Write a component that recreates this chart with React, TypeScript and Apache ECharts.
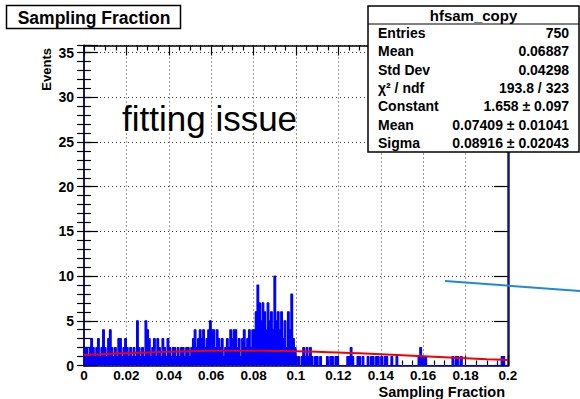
import React, { useEffect, useRef } from "react";
import * as echarts from "echarts";

// ---------- data ----------
const X_MIN = 0;
const X_MAX = 0.2;
const BIN_WIDTH = 0.0008;
const Y_MAX = 35.8;

// bin contents, 25 bins per 0.02 interval
const bins_000_002 = [2, 2, 1, 2, 3, 2, 1, 2, 3, 1, 2, 4, 2, 1, 3, 4, 2, 1, 2, 1, 3, 3, 1, 2, 3];
const bins_002_004 = [2, 1, 2, 1, 2, 1, 5, 2, 1, 2, 1, 5, 4, 3, 1, 2, 3, 1, 3, 2, 1, 3, 2, 1, 3];
const bins_004_006 = [2, 1, 2, 2, 1, 2, 1, 2, 2, 1, 2, 2, 1, 2, 3, 4, 2, 3, 4, 3, 4, 2, 3, 4, 5];
const bins_006_008 = [4, 4, 2, 4, 3, 2, 3, 1, 2, 3, 2, 4, 3, 4, 4, 2, 3, 1, 3, 4, 2, 3, 4, 2, 4];
const bins_008_010 = [4, 6, 9, 7, 5, 7, 6, 4, 7, 5, 6, 4, 10, 5, 6, 4, 6, 3, 5, 2, 6, 4, 8, 3, 2];
const bins_010_012 = [0, 1, 0, 1, 2, 1, 2, 1, 2, 1, 0, 1, 1, 0, 1, 0, 0, 0, 1, 0, 1, 1, 0, 1, 1];
const bins_012_014 = [0, 0, 0, 0, 0, 1, 1, 2, 1, 0, 0, 1, 1, 0, 1, 0, 0, 1, 0, 1, 1, 0, 1, 1, 0];
const bins_014_016 = [1, 0, 1, 1, 0, 0, 1, 0, 0, 1, 0, 0, 0, 0, 0, 0, 0, 0, 0, 0, 0, 0, 1, 2, 1];
const bins_016_018 = [1, 1, 0, 0, 0, 0, 0, 0, 0, 0, 0, 0, 0, 0, 0, 0, 0, 1, 0, 1, 1, 0, 1, 0, 0];
const bins_018_020 = [0, 0, 0, 0, 0, 0, 0, 0, 0, 0, 0, 0, 0, 0, 0, 0, 0, 0, 0, 0, 0, 1, 1, 0, 0];

// fit curve
const fitX = [0, 0.01, 0.02, 0.03, 0.04, 0.05, 0.06, 0.07, 0.08, 0.09, 0.1, 0.11, 0.12, 0.13, 0.14, 0.15, 0.16, 0.17, 0.18, 0.19, 0.2];
const fitY = [1.174, 1.28, 1.379, 1.467, 1.541, 1.598, 1.637, 1.656, 1.654, 1.632, 1.59, 1.529, 1.452, 1.362, 1.262, 1.154, 1.042, 0.93, 0.819, 0.712, 0.612];

const statsTitle = "hfsam_copy";
const statsLabels = ["Entries", "Mean", "Std Dev", "χ² / ndf", "Constant", "Mean", "Sigma"];
const statsValues = ["750", "0.06887", "0.04298", "193.8 / 323", "1.658 ± 0.097", "0.07409 ± 0.01041", "0.08916 ± 0.02043"];

const titleText = "Sampling Fraction";
const xTitle = "Sampling Fraction";
const yTitle = "Events";
const noteText = "fitting issue";

// ---------- component ----------
const FONT = "'Liberation Sans', Arial, Helvetica, sans-serif";
const NAVY = "#14147a";

export default function App() {
  const ref = useRef<HTMLDivElement>(null);

  useEffect(() => {
    if (!ref.current) return;
    const chart = echarts.init(ref.current, undefined, { renderer: "svg" });

    const allBins = [
      ...bins_000_002, ...bins_002_004, ...bins_004_006, ...bins_006_008, ...bins_008_010,
      ...bins_010_012, ...bins_012_014, ...bins_014_016, ...bins_016_018, ...bins_018_020,
    ];
    const histData: number[][] = [[X_MIN, 0]];
    allBins.forEach((v, i) => histData.push([X_MIN + i * BIN_WIDTH, v]));
    histData.push([X_MAX, allBins[allBins.length - 1]]);
    histData.push([X_MAX, 0]);

    const fitData = fitX.map((x, i) => [x, fitY[i]]);

    const gridL = 84, gridR = 508, gridT = 45.5, gridB = 365.5;

    const xLab = (v: number) => {
      const r = Math.round(v * 100) / 100;
      return r === 0 ? "0" : String(r);
    };
    const yLab = (v: number) => (Math.abs(v % 5) < 1e-9 ? String(v) : "");

    const baseX = {
      type: "value" as const,
      min: X_MIN,
      max: X_MAX,
      interval: 0.02,
    };
    const baseY = { type: "value" as const, min: 0, max: Y_MAX };

    const statsTop = 6, statsLeft = 368, statsRight = 579, statsBottom = 152, statsSep = 24;
    const rowH = (statsBottom - statsSep) / 7;

    const graphics: any[] = [
      // title box
      { type: "rect", shape: { x: 6.5, y: 5.5, width: 174, height: 23 }, style: { fill: "#fff", stroke: "#000", lineWidth: 1.5 }, z: 100 },
      { type: "text", x: 94, y: 17.5, style: { text: titleText, font: `bold 17.5px ${FONT}`, fill: "#000", align: "center", verticalAlign: "middle" }, z: 101 },
      // axis titles
      { type: "text", x: 505, y: 392, style: { text: xTitle, font: `bold 14.5px ${FONT}`, fill: "#000", align: "right", verticalAlign: "middle" }, z: 101 },
      { type: "text", x: 46, y: 48, rotation: Math.PI / 2, style: { text: yTitle, font: `bold 13px ${FONT}`, fill: "#000", align: "right", verticalAlign: "middle" }, z: 101 },
      // note
      { type: "text", x: 122, y: 118, style: { text: noteText, font: `35px ${FONT}`, fill: "#000", align: "left", verticalAlign: "middle" }, z: 101 },
      // annotation line
      { type: "line", shape: { x1: 445, y1: 281, x2: 580, y2: 291 }, style: { stroke: "#1f8ad1", lineWidth: 2 }, z: 102 },
      // stats box
      { type: "rect", shape: { x: statsLeft, y: statsTop, width: statsRight - statsLeft, height: statsBottom - statsTop }, style: { fill: "#fff", stroke: "#000", lineWidth: 1.5 }, z: 100 },
      { type: "line", shape: { x1: statsLeft, y1: statsSep, x2: statsRight, y2: statsSep }, style: { stroke: "#000", lineWidth: 1 }, z: 101 },
      { type: "text", x: (statsLeft + statsRight) / 2, y: (statsTop + statsSep) / 2 + 0.5, style: { text: statsTitle, font: `bold 15px ${FONT}`, fill: "#000", align: "center", verticalAlign: "middle" }, z: 101 },
    ];
    statsLabels.forEach((lab, i) => {
      const y = statsSep + rowH * (i + 0.5);
      graphics.push({ type: "text", x: statsLeft + 10, y, style: { text: lab, font: `bold 14px ${FONT}`, fill: "#000", align: "left", verticalAlign: "middle" }, z: 101 });
      graphics.push({ type: "text", x: statsRight - 10, y, style: { text: statsValues[i], font: `bold 14px ${FONT}`, fill: "#000", align: "right", verticalAlign: "middle" }, z: 101 });
    });

    chart.setOption({
      animation: false,
      textStyle: { fontFamily: FONT },
      grid: { left: gridL, right: 580 - gridR, top: gridT, bottom: 399 - gridB, show: false },
      xAxis: [
        {
          ...baseX,
          position: "bottom",
          axisLine: { show: true, onZero: false, lineStyle: { color: "#000", width: 1.5 } },
          axisTick: { show: true, inside: true, length: 10, lineStyle: { color: "#000", width: 1.2 } },
          minorTick: { show: true, splitNumber: 4, length: 5, lineStyle: { color: "#000", width: 1.2 } },
          splitLine: { show: true, lineStyle: { color: "#333", type: [1, 3], width: 1 } },
          axisLabel: { show: true, margin: 3, fontSize: 13.5, fontWeight: "bold", color: "#000", fontFamily: FONT, formatter: xLab },
        },
        {
          ...baseX,
          position: "top",
          axisLine: { show: true, onZero: false, lineStyle: { color: "#000", width: 1.5 } },
          axisTick: { show: true, inside: true, length: 10, lineStyle: { color: "#000", width: 1.2 } },
          minorTick: { show: true, splitNumber: 4, length: 5, lineStyle: { color: "#000", width: 1.2 } },
          splitLine: { show: false },
          axisLabel: { show: false },
        },
      ],
      yAxis: [
        {
          ...baseY,
          interval: 5,
          position: "left",
          axisLine: { show: true, onZero: false, lineStyle: { color: NAVY, width: 2 } },
          axisTick: { show: true, inside: true, length: 14, lineStyle: { color: "#000", width: 1.2 } },
          splitLine: { show: true, lineStyle: { color: "#333", type: [1, 3], width: 1 } },
          axisLabel: { show: true, margin: 10, fontSize: 14, fontWeight: "bold", color: "#000", fontFamily: FONT, formatter: yLab },
        },
        {
          ...baseY,
          interval: 1,
          position: "left",
          axisLine: { show: false },
          axisTick: { show: true, inside: true, length: 7, lineStyle: { color: "#000", width: 1.2 } },
          splitLine: { show: false },
          axisLabel: { show: false },
        },
        {
          ...baseY,
          interval: 5,
          position: "right",
          axisLine: { show: true, onZero: false, lineStyle: { color: NAVY, width: 2.5 } },
          axisTick: { show: true, inside: true, length: 14, lineStyle: { color: "#000", width: 1.2 } },
          splitLine: { show: false },
          axisLabel: { show: false },
        },
        {
          ...baseY,
          interval: 1,
          position: "right",
          axisLine: { show: false },
          axisTick: { show: true, inside: true, length: 7, lineStyle: { color: "#000", width: 1.2 } },
          splitLine: { show: false },
          axisLabel: { show: false },
        },
      ],
      series: [
        {
          type: "line",
          xAxisIndex: 0,
          yAxisIndex: 0,
          data: histData,
          step: "end",
          symbol: "none",
          clip: true,
          lineStyle: { color: "#0000ff", width: 1.2 },
          areaStyle: { color: "#0000ff", opacity: 1, origin: "start" },
          z: 3,
        },
        {
          type: "line",
          xAxisIndex: 0,
          yAxisIndex: 0,
          data: fitData,
          smooth: 0.3,
          symbol: "none",
          lineStyle: { color: "#f00000", width: 2 },
          z: 4,
        },
      ],
      graphic: graphics,
    });

    return () => chart.dispose();
  }, []);

  return (
    <div
      ref={ref}
      style={{ position: "fixed", left: 0, top: 0, width: 580, height: 399, background: "#fff" }}
    />
  );
}
